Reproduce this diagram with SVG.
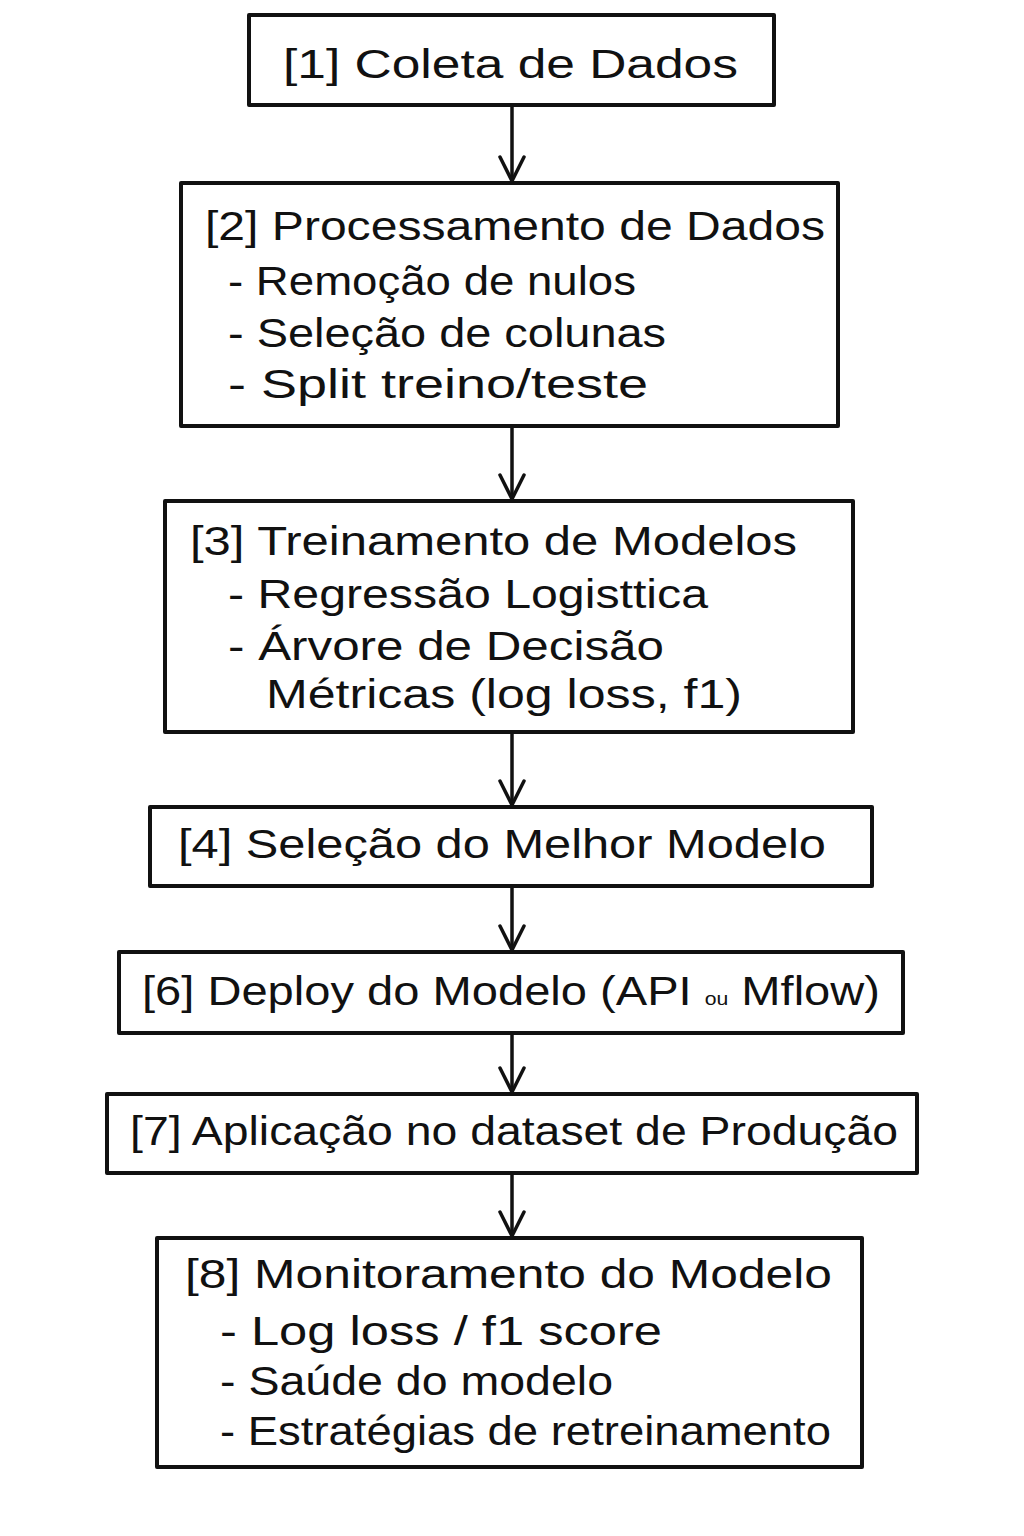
<svg xmlns="http://www.w3.org/2000/svg" width="1024" height="1536" viewBox="0 0 1024 1536">
<defs>
<style>
.box{fill:#fff;stroke:#111;stroke-width:4;stroke-linejoin:round}
.t{font-family:"Liberation Sans","DejaVu Sans",sans-serif;font-size:40px;fill:#111}
.c{stroke:#111;stroke-width:3.5;fill:none;stroke-linecap:round}
.ah{stroke:#111;stroke-width:3.5;fill:none;stroke-linecap:round;stroke-linejoin:round}
</style>
<marker id="arr" viewBox="0 0 30 30" refX="27" refY="15" markerWidth="30" markerHeight="30" markerUnits="userSpaceOnUse" orient="auto">
<path d="M3,3 L27,15 L3,27" class="ah"/>
</marker>
</defs>
<rect width="1024" height="1536" fill="#fff"/>
<g id="connectors">
<path class="c" d="M512,106 V181" marker-end="url(#arr)"/>
<path class="c" d="M512,428 V499" marker-end="url(#arr)"/>
<path class="c" d="M512,734 V805" marker-end="url(#arr)"/>
<path class="c" d="M512,888 V950" marker-end="url(#arr)"/>
<path class="c" d="M512,1035 V1092" marker-end="url(#arr)"/>
<path class="c" d="M512,1175 V1236" marker-end="url(#arr)"/>
</g>
<g id="n1">
<rect class="box" x="249" y="15" width="525" height="90"/>
<text class="t" x="283" y="78" textLength="455" lengthAdjust="spacingAndGlyphs">[1] Coleta de Dados</text>
</g>
<g id="n2">
<rect class="box" x="181" y="183" width="657" height="243"/>
<text class="t" x="205" y="240" textLength="620" lengthAdjust="spacingAndGlyphs">[2] Processamento de Dados</text>
<text class="t" x="228" y="295" textLength="408" lengthAdjust="spacingAndGlyphs">- Remoção de nulos</text>
<text class="t" x="228" y="347" textLength="438" lengthAdjust="spacingAndGlyphs">- Seleção de colunas</text>
<text class="t" x="228" y="398" textLength="420" lengthAdjust="spacingAndGlyphs">- Split treino/teste</text>
</g>
<g id="n3">
<rect class="box" x="165" y="501" width="688" height="231"/>
<text class="t" x="190" y="555" textLength="607" lengthAdjust="spacingAndGlyphs">[3] Treinamento de Modelos</text>
<text class="t" x="228" y="608" textLength="480" lengthAdjust="spacingAndGlyphs">- Regressão Logisttica</text>
<text class="t" x="228" y="660" textLength="436" lengthAdjust="spacingAndGlyphs">- Árvore de Decisão</text>
<text class="t" x="266" y="708" textLength="476" lengthAdjust="spacingAndGlyphs">Métricas (log loss, f1)</text>
</g>
<g id="n4">
<rect class="box" x="150" y="807" width="722" height="79"/>
<text class="t" x="178" y="858" textLength="648" lengthAdjust="spacingAndGlyphs">[4] Seleção do Melhor Modelo</text>
</g>
<g id="n6">
<rect class="box" x="119" y="952" width="784" height="81"/>
<text class="t" x="142" y="1005" textLength="738" lengthAdjust="spacingAndGlyphs">[6] Deploy do Modelo (API <tspan font-size="18">ou</tspan> Mflow)</text>
</g>
<g id="n7">
<rect class="box" x="107" y="1094" width="810" height="79"/>
<text class="t" x="130" y="1145" textLength="768" lengthAdjust="spacingAndGlyphs">[7] Aplicação no dataset de Produção</text>
</g>
<g id="n8">
<rect class="box" x="157" y="1238" width="705" height="229"/>
<text class="t" x="185" y="1288" textLength="647" lengthAdjust="spacingAndGlyphs">[8] Monitoramento do Modelo</text>
<text class="t" x="220" y="1345" textLength="442" lengthAdjust="spacingAndGlyphs">- Log loss / f1 score</text>
<text class="t" x="220" y="1395" textLength="393" lengthAdjust="spacingAndGlyphs">- Saúde do modelo</text>
<text class="t" x="220" y="1445" textLength="611" lengthAdjust="spacingAndGlyphs">- Estratégias de retreinamento</text>
</g>
</svg>
